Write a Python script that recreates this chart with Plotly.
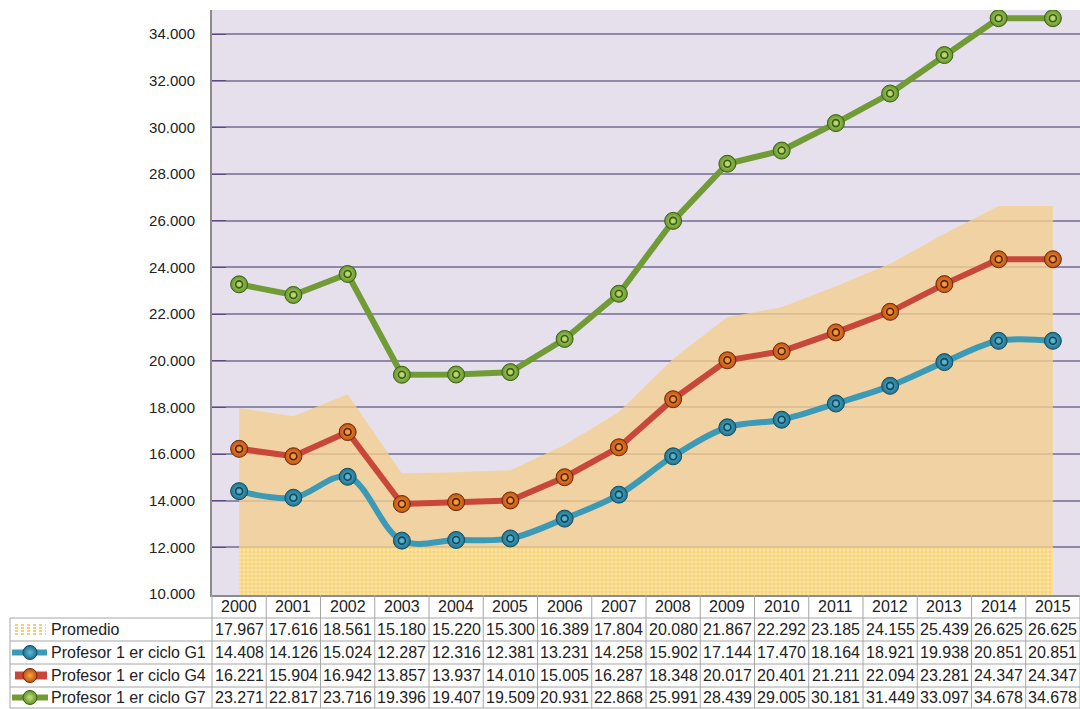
import plotly.graph_objects as go

# ---- data -------------------------------------------------------------
years = [2000, 2001, 2002, 2003, 2004, 2005, 2006, 2007,
         2008, 2009, 2010, 2011, 2012, 2013, 2014, 2015]
promedio = [17967, 17616, 18561, 15180, 15220, 15300, 16389, 17804,
            20080, 21867, 22292, 23185, 24155, 25439, 26625, 26625]
g1 = [14408, 14126, 15024, 12287, 12316, 12381, 13231, 14258,
      15902, 17144, 17470, 18164, 18921, 19938, 20851, 20851]
g4 = [16221, 15904, 16942, 13857, 13937, 14010, 15005, 16287,
      18348, 20017, 20401, 21211, 22094, 23281, 24347, 24347]
g7 = [23271, 22817, 23716, 19396, 19407, 19509, 20931, 22868,
      25991, 28439, 29005, 30181, 31449, 33097, 34678, 34678]
area_base = 12000
row_labels = ["Promedio", "Profesor 1 er ciclo G1",
              "Profesor 1 er ciclo G4", "Profesor 1 er ciclo G7"]

# ---- geometry (pixels) -------------------------------------------------
W, H = 1080, 709
PL, PR, PT, PB = 212, 1080, 10, 595
COL_W = (PR - PL) / len(years)
ROW_EDGES = [PB, 618, 641, 664, 687, 708]
TABLE_LEFT = 10
FONT = "Liberation Sans, Arial, sans-serif"
TXT = "#222222"
GRID = "#9088a9"
TABLE_LINE = "#a6a6a6"


def px(x):
    return x / W


def py(y):
    return 1 - y / H


def fmt(v):
    return f"{v:,}".replace(",", ".")


# for radial gradients plotly uses gradient.color at the centre and
# marker.color at the rim
series = [
    dict(name=row_labels[1], y=g1, line="#3d9ab6", rim="#1f6f8c",
         centre="#5fbfd8", edge="#154e62", ring="#12465a", shape="spline"),
    dict(name=row_labels[2], y=g4, line="#c9463b", rim="#c0500f",
         centre="#f7a545", edge="#6e2a08", ring="#5a2206", shape="linear"),
    dict(name=row_labels[3], y=g7, line="#719b36", rim="#62922a",
         centre="#c5e27c", edge="#3d6213", ring="#3b5c12", shape="linear"),
]

fig = go.Figure()

# hatched band under the average area
fig.add_trace(go.Scatter(
    x=years, y=[area_base] * len(years), mode="lines",
    line=dict(width=0), fill="tozeroy",
    fillcolor="#fbe3a2",
    fillpattern=dict(shape="+", fgcolor="#f3bf3a", bgcolor="#fbe4a6",
                     size=4, solidity=0.45),
    hoverinfo="skip", showlegend=False))

# average area
fig.add_trace(go.Scatter(
    x=years, y=promedio, mode="lines", line=dict(width=0),
    fill="tonexty", fillcolor="rgba(243,207,142,0.78)",
    name=row_labels[0], showlegend=False))

for s in series:
    fig.add_trace(go.Scatter(
        x=years, y=s["y"], mode="lines+markers", name=s["name"],
        line=dict(color=s["line"], width=6, shape=s["shape"], smoothing=1),
        marker=dict(size=17, color=s["rim"],
                    gradient=dict(type="radial", color=s["centre"]),
                    line=dict(color=s["edge"], width=1)),
        showlegend=False))
    # small ring in the middle of each bead
    fig.add_trace(go.Scatter(
        x=years, y=s["y"], mode="markers",
        marker=dict(symbol="circle-open", size=7, color=s["ring"],
                    line=dict(color=s["ring"], width=1.6)),
        hoverinfo="skip", showlegend=False))

# ---- row key icons (pixel overlay axes) ------------------------------
row_centers = [(ROW_EDGES[i] + ROW_EDGES[i + 1]) / 2 for i in range(len(ROW_EDGES) - 1)]
icon_rows = row_centers[2:]
for s, yc, (x0, x1, w) in zip(series, icon_rows,
                              [(12, 47, 6), (15, 47, 8), (12, 48, 6)]):
    fig.add_trace(go.Scatter(
        x=[x0, x1], y=[yc, yc], mode="lines", xaxis="x2", yaxis="y2",
        line=dict(color=s["line"], width=w), hoverinfo="skip",
        showlegend=False))
    fig.add_trace(go.Scatter(
        x=[30], y=[yc], mode="markers", xaxis="x2", yaxis="y2",
        marker=dict(size=14, color=s["rim"],
                    gradient=dict(type="radial", color=s["centre"]),
                    line=dict(color=s["edge"], width=1)),
        hoverinfo="skip", showlegend=False))

shapes = []
# plot background
shapes.append(dict(type="rect", xref="x domain", yref="y domain",
                   x0=0, x1=1, y0=0, y1=1, layer="below",
                   fillcolor="#e6e0ed", line=dict(width=0)))

# Promedio key: dotted yellow swatch
for yy in (625, 628, 631, 634):
    shapes.append(dict(type="line", xref="paper", yref="paper",
                       x0=px(15), x1=px(46), y0=py(yy), y1=py(yy),
                       line=dict(color="#f0c04a", width=1.5, dash="dot")))

# table grid
for k in range(len(years) + 1):
    x = PL + COL_W * k
    shapes.append(dict(type="line", xref="paper", yref="paper",
                       x0=px(x), x1=px(x), y0=py(PB), y1=py(ROW_EDGES[-1]),
                       line=dict(color=TABLE_LINE, width=1)))
shapes.append(dict(type="line", xref="paper", yref="paper",
                   x0=px(TABLE_LEFT), x1=px(TABLE_LEFT),
                   y0=py(ROW_EDGES[1]), y1=py(ROW_EDGES[-1]),
                   line=dict(color=TABLE_LINE, width=1)))
for yy in ROW_EDGES[1:]:
    shapes.append(dict(type="line", xref="paper", yref="paper",
                       x0=px(TABLE_LEFT), x1=px(PR), y0=py(yy), y1=py(yy),
                       line=dict(color=TABLE_LINE, width=1)))

annotations = []
for i, yr in enumerate(years):
    xc = PL + COL_W * (i + 0.5)
    annotations.append(dict(
        x=px(xc), y=py(row_centers[0]), xref="paper", yref="paper",
        text=str(yr), showarrow=False, xanchor="center", yanchor="middle",
        font=dict(family=FONT, size=16, color=TXT)))
    for vals, yc in zip([promedio, g1, g4, g7], row_centers[1:]):
        annotations.append(dict(
            x=px(xc), y=py(yc), xref="paper", yref="paper",
            text=fmt(vals[i]), showarrow=False, xanchor="center",
            yanchor="middle", font=dict(family=FONT, size=16, color=TXT)))
for lab, yc in zip(row_labels, row_centers[1:]):
    annotations.append(dict(
        x=px(49), y=py(yc), xref="paper", yref="paper", text=lab,
        showarrow=False, xanchor="left", yanchor="middle",
        font=dict(family=FONT, size=16, color=TXT)))

# y range mapped so that 10.000 sits on the bottom axis line
y_per_px = 24000 / (594 - 34)
y_min = 10000 - (PB - 594) * y_per_px
y_max = 34000 + (34 - PT) * y_per_px

fig.update_layout(
    width=W, height=H,
    margin=dict(l=0, r=0, t=0, b=0, autoexpand=False),
    paper_bgcolor="white", plot_bgcolor="rgba(0,0,0,0)",
    separators=",.",
    xaxis=dict(domain=[px(PL), px(PR)], range=[years[0] - 0.5, years[-1] + 0.5],
               showgrid=False, zeroline=False, showticklabels=False,
               showline=True, linecolor="#8c8c8c", linewidth=2,
               ticks="", automargin=False, fixedrange=True),
    yaxis=dict(domain=[py(PB), py(PT)], range=[y_min, y_max],
               tick0=10000, dtick=2000, tickformat=",d",
               showgrid=True, gridcolor=GRID, gridwidth=2,
               zeroline=False, showline=True, linecolor="#8c8c8c",
               linewidth=2, ticks="inside", ticklen=14, tickwidth=1,
               tickcolor="#5b4b85", ticklabelstandoff=12,
               tickfont=dict(family=FONT, size=15, color=TXT),
               automargin=False, fixedrange=True),
    xaxis2=dict(domain=[0, 1], range=[0, W], visible=False, anchor="y2",
                fixedrange=True),
    yaxis2=dict(domain=[0, 1], range=[H, 0], visible=False, anchor="x2",
                fixedrange=True),
    shapes=shapes, annotations=annotations, showlegend=False,
)

fig.write_html("out.html")
